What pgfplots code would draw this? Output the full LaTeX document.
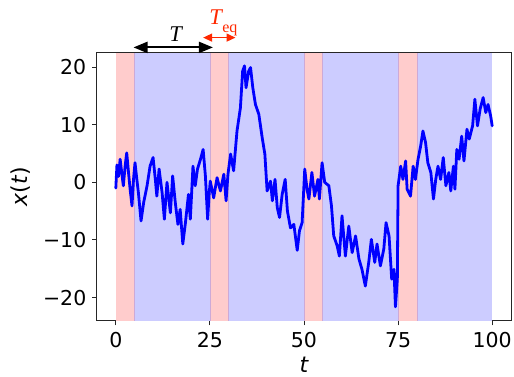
\documentclass[border=0pt]{standalone}
\usepackage{pgfplots}
\pgfplotsset{compat=1.18}
\usepackage{fontspec}
\setmainfont{DejaVu Sans}
\newfontfamily\serif{Liberation Serif}
\usetikzlibrary{arrows.meta}
\definecolor{pinkc}{RGB}{255,204,204}
\definecolor{bluec}{RGB}{204,204,255}
\definecolor{edgec}{RGB}{205,170,215}
\definecolor{redc}{RGB}{255,40,0}
\pgfplotstableread{
t y
0 -1.0
0.3 3.0
0.7 1.0
1.15 4.0
1.6 1.5
2.0 -0.6
2.5 3.0
2.9 5.1
3.4 1.5
3.8 -1.2
4.3 -4.1
4.7 0.5
5.1 3.4
5.5 1.0
6.0 -1.8
6.7 -6.7
7.4 -3.5
8.3 -0.6
9.1 2.8
9.9 4.3
10.5 0.5
10.9 -2.4
11.5 2.3
12.3 -1.8
12.9 -6.4
13.6 0
14.5 -5.3
15.1 1.1
15.8 -3.5
16.5 -7.3
17.1 -4.7
17.8 -10.7
18.5 -7.0
19.3 -2.1
19.8 -6.4
20.5 2.8
21.1 -0.6
21.7 2.3
22.5 4.0
23.2 5.7
23.8 1.1
24.4 -6.4
24.8 -2.0
25.1 0.2
26.0 -2.7
26.9 0.8
27.8 -1.5
28.7 1.4
29.3 -3.2
29.8 1.4
30.5 4.9
31.3 2.0
32.2 8.9
33.1 12.9
33.7 19.3
34.2 20.2
34.6 16.4
35.3 19.3
35.8 19.9
36.4 16.4
37.1 13.5
38.0 11.8
38.9 7.7
39.6 4.9
40.2 -1.5
41.1 0.2
41.6 -3.2
42.3 0.5
42.9 -4.4
43.5 -6.1
44.2 -2.1
45.0 0.5
45.6 -5.0
46.4 -7.9
47.3 -7.3
48.2 -11.8
48.8 -8.4
49.5 -7.0
50.2 2.3
50.8 -1.2
51.3 -2.9
52.1 1.7
52.8 -2.4
53.7 0.5
54.1 -2.9
54.8 3.4
55.5 0
56.6 -0.6
57.3 -4.1
57.9 -9.3
58.8 -11.0
59.4 -12.8
60.1 -5.8
61.0 -12.8
61.9 -7.6
62.8 -12.2
63.7 -9.3
64.6 -13.3
65.4 -15.1
66.3 -18.0
67.2 -13.9
67.9 -9.9
68.8 -13.9
69.4 -10.7
70.3 -14.5
71.2 -11.6
71.8 -7.0
72.6 -9.3
73.3 -16.8
73.9 -15.1
74.3 -21.6
74.8 -16.8
75.0 -0.6
75.7 2.8
76.3 0.5
77.0 3.7
77.4 -1.2
78.3 -2.4
79.0 2.8
79.6 0.5
80.3 4.0
81.0 6.3
81.6 8.9
82.3 6.9
82.9 3.4
83.7 1.7
84.4 -2.9
85.0 0.5
85.6 2.8
86.3 0.5
87.0 4.3
87.7 -0.6
88.5 1.7
89.0 -1.5
89.7 2.8
90.1 -1.2
90.6 5.7
91.2 4.0
91.9 8.0
92.5 3.7
93.3 9.2
93.9 7.5
94.8 9.8
95.4 14.4
96.1 9.8
96.8 12.7
97.6 14.7
98.3 12.1
98.9 13.5
99.6 11.5
100 9.8
}\walk
\begin{document}
\begin{tikzpicture}
\path[use as bounding box] (-97pt,-56pt) rectangle (417pt,321pt);
\begin{axis}[
  at={(0,0)}, anchor=south west,
  scale only axis, width=414pt, height=268.4pt,
  xmin=-5, xmax=105, ymin=-24.06, ymax=22.5,
  axis line style={line width=1pt, black!85},
  tick style={line width=1pt, black!85},
  tick align=outside, major tick length=4.5pt,
  xtick={0,25,50,75,100},
  ytick={-20,-10,0,10,20},
  yticklabels={−20,−10,0,10,20},
  xtick pos=bottom, ytick pos=left,
  /pgf/number format/assume math mode=true,
  tick label style={font=\fontsize{20.5}{24}\selectfont},
  xticklabel style={inner sep=0pt, yshift=-7pt},
  yticklabel style={inner sep=0pt, xshift=-6pt},
  xlabel={\fontsize{22}{26}\selectfont\itshape t},
  ylabel={\fontsize{22}{26}\selectfont{\itshape x}(\kern0.05em{\itshape t})},
  xlabel style={at={(axis description cs:0.5,-0.164)}, anchor=center},
  ylabel style={at={(axis description cs:-0.1836,0.5)}, anchor=center},
  clip=false,
]
\addplot[fill=pinkc, draw=none] coordinates {(0,-24.06) (0,22.5) (5,22.5) (5,-24.06)} -- cycle;
\addplot[fill=bluec, draw=none] coordinates {(5,-24.06) (5,22.5) (25,22.5) (25,-24.06)} -- cycle;
\addplot[fill=pinkc, draw=none] coordinates {(25,-24.06) (25,22.5) (30,22.5) (30,-24.06)} -- cycle;
\addplot[fill=bluec, draw=none] coordinates {(30,-24.06) (30,22.5) (50,22.5) (50,-24.06)} -- cycle;
\addplot[fill=pinkc, draw=none] coordinates {(50,-24.06) (50,22.5) (55,22.5) (55,-24.06)} -- cycle;
\addplot[fill=bluec, draw=none] coordinates {(55,-24.06) (55,22.5) (75,22.5) (75,-24.06)} -- cycle;
\addplot[fill=pinkc, draw=none] coordinates {(75,-24.06) (75,22.5) (80,22.5) (80,-24.06)} -- cycle;
\addplot[fill=bluec, draw=none] coordinates {(80,-24.06) (80,22.5) (100,22.5) (100,-24.06)} -- cycle;
\pgfplotsinvokeforeach{5,25,30,50,55,75,80}{
  \addplot[edgec, line width=0.8pt] coordinates {(#1,-24.06) (#1,22.5)};
}
\addplot[blue, line width=2.8pt, line join=round, line cap=round] table[x=t,y=y] {\walk};
\draw[{Triangle[length=14pt,width=11pt]}-{Triangle[length=14pt,width=11pt]}, line width=2pt, black]
  (axis cs:4.7,23.4) -- (axis cs:25.8,23.4);
\draw[{Triangle[length=9pt,width=8pt]}-{Triangle[length=9pt,width=8pt]}, line width=1.4pt, redc]
  (axis cs:23.2,25.1) -- (axis cs:31.8,25.1);
\node[anchor=base, inner sep=0pt] at (axis cs:15.9,24.5) {\fontsize{22.5}{26}\serif\itshape T};
\node[anchor=base west, inner sep=0pt, text=redc] at (axis cs:24.8,27.4) {\fontsize{22.5}{26}\serif\itshape T\kern0.02em\raisebox{-8pt}{\fontsize{16}{18}\serif\upshape eq}};
\end{axis}
\end{tikzpicture}
\end{document}
